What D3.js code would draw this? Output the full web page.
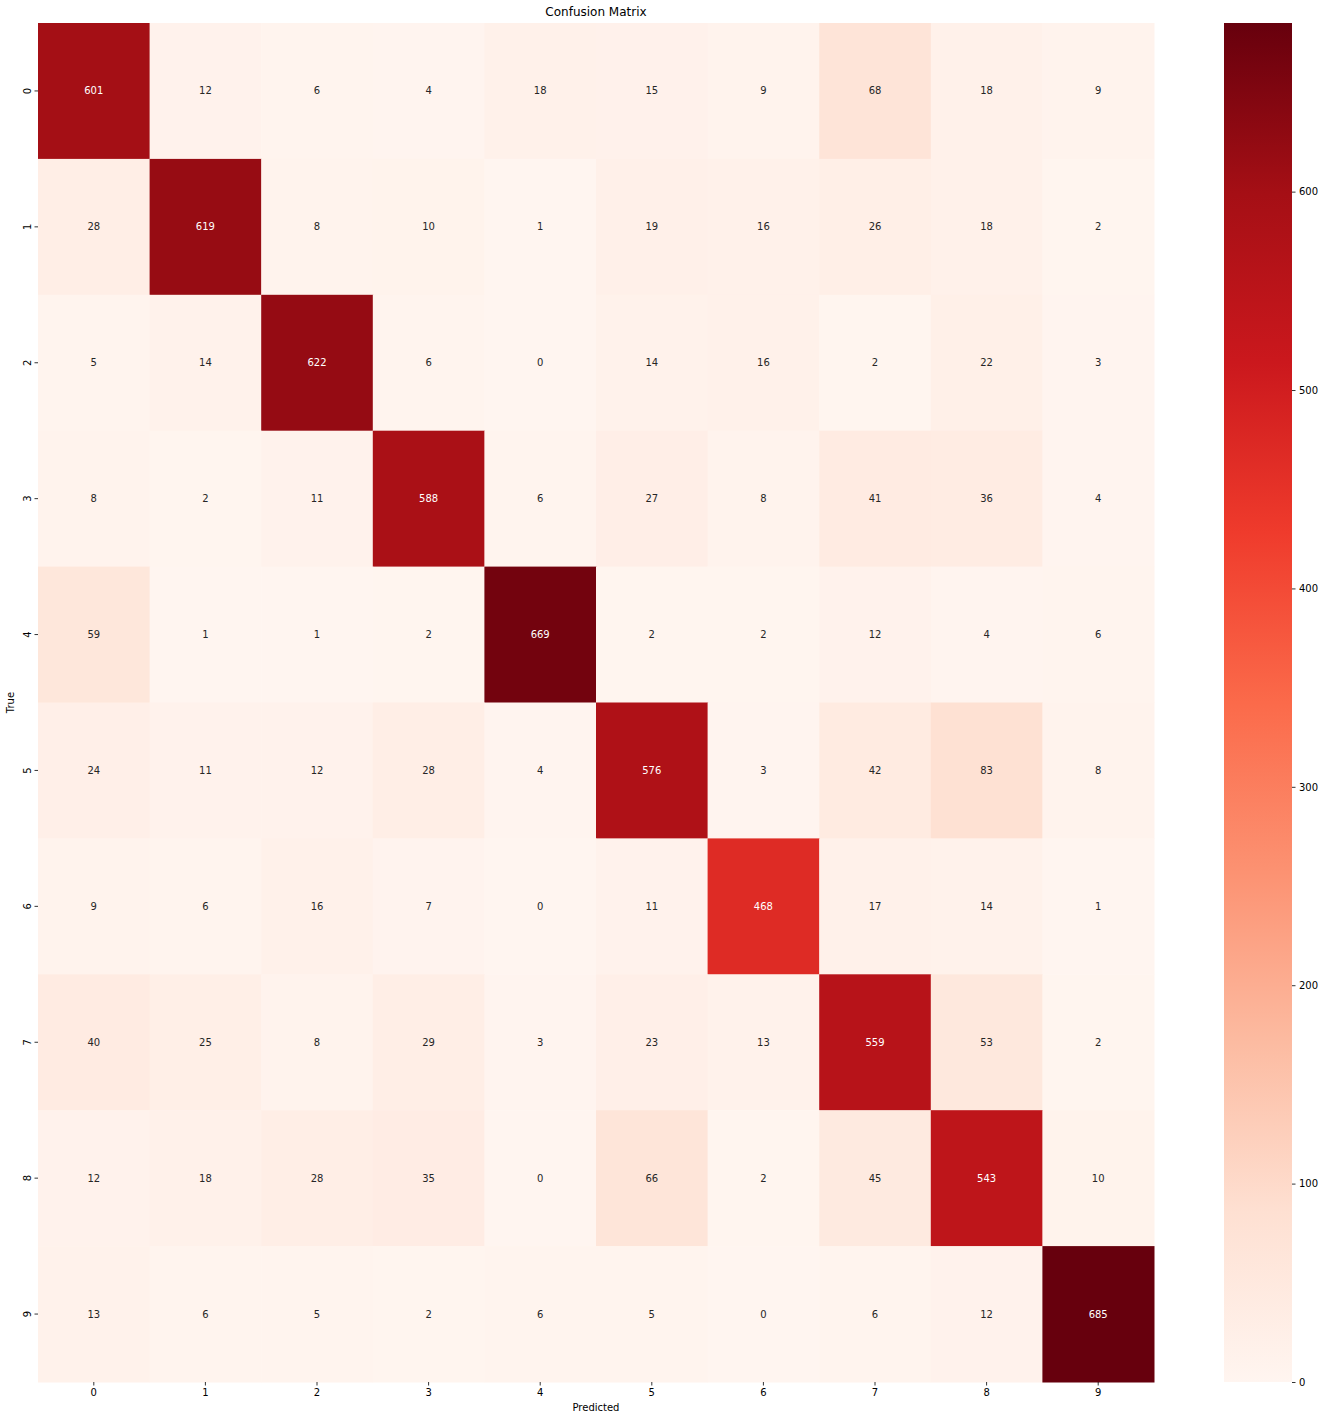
<!DOCTYPE html>
<html>
<head>
<meta charset="utf-8">
<script src="https://cdn.jsdelivr.net/npm/d3@7.9.0/dist/d3.min.js"></script>
<style>
  body { margin: 0; background: #fff; }
  svg text { font-family: "DejaVu Sans", sans-serif; }
</style>
</head>
<body>
<svg id="chart" width="1324" height="1420"></svg>
<script>
const labels = ['0', '1', '2', '3', '4', '5', '6', '7', '8', '9'];
const matrix = [
    [601, 12, 6, 4, 18, 15, 9, 68, 18, 9],
    [28, 619, 8, 10, 1, 19, 16, 26, 18, 2],
    [5, 14, 622, 6, 0, 14, 16, 2, 22, 3],
    [8, 2, 11, 588, 6, 27, 8, 41, 36, 4],
    [59, 1, 1, 2, 669, 2, 2, 12, 4, 6],
    [24, 11, 12, 28, 4, 576, 3, 42, 83, 8],
    [9, 6, 16, 7, 0, 11, 468, 17, 14, 1],
    [40, 25, 8, 29, 3, 23, 13, 559, 53, 2],
    [12, 18, 28, 35, 0, 66, 2, 45, 543, 10],
    [13, 6, 5, 2, 6, 5, 0, 6, 12, 685]
];
const cbarTicks = [0, 100, 200, 300, 400, 500, 600];

const svg = d3.select('#chart');
const plotLeft = 38, plotRight = 1154, plotTop = 23, plotBottom = 1382;

const x = d3.scaleBand().domain(labels).range([plotLeft, plotRight]);
const y = d3.scaleBand().domain(labels).range([plotTop, plotBottom]);

const vmax = d3.max(matrix.flat());
const reds = d3.schemeReds[9];
const color = d3.scaleLinear()
    .domain(reds.map((c, i) => i * vmax / 8))
    .range(reds)
    .interpolate(d3.interpolateRgb);

// text colour like seaborn: luminance based
function textColor(c) {
    const rgb = d3.rgb(c);
    const lin = [rgb.r, rgb.g, rgb.b].map(v => {
        v /= 255;
        return v <= 0.03928 ? v / 12.92 : Math.pow((v + 0.055) / 1.055, 2.4);
    });
    const lum = 0.2126 * lin[0] + 0.7152 * lin[1] + 0.0722 * lin[2];
    return lum > 0.408 ? '#262626' : '#ffffff';
}

const cells = [];
matrix.forEach((row, i) => {
    row.forEach((v, j) => {
        cells.push({ r: labels[i], c: labels[j], v: v });
    });
});

svg.append('g')
    .selectAll('rect')
    .data(cells)
    .join('rect')
    .attr('x', d => x(d.c))
    .attr('y', d => y(d.r))
    .attr('width', x.bandwidth() + 0.5)
    .attr('height', y.bandwidth() + 0.5)
    .attr('fill', d => color(d.v));

svg.append('g')
    .selectAll('text')
    .data(cells)
    .join('text')
    .attr('x', d => x(d.c) + x.bandwidth() / 2)
    .attr('y', d => y(d.r) + y.bandwidth() / 2)
    .attr('text-anchor', 'middle')
    .attr('dominant-baseline', 'central')
    .attr('font-size', 10)
    .attr('fill', d => textColor(color(d.v)))
    .text(d => d.v);

// axes
const xAxis = svg.append('g')
    .attr('transform', `translate(0,${plotBottom})`)
    .call(d3.axisBottom(x).tickSize(3.5).tickPadding(3.5));
xAxis.select('.domain').remove();
xAxis.selectAll('.tick line').attr('stroke', '#000').attr('stroke-width', 0.8);
xAxis.selectAll('.tick text').attr('font-size', 10).attr('fill', '#000')
    .style('font-family', '"DejaVu Sans", sans-serif');

const yAxis = svg.append('g')
    .attr('transform', `translate(${plotLeft},0)`)
    .call(d3.axisLeft(y).tickSize(3.5).tickPadding(3.5));
yAxis.select('.domain').remove();
yAxis.selectAll('.tick line').attr('stroke', '#000').attr('stroke-width', 0.8);
yAxis.selectAll('.tick text')
    .attr('font-size', 10).attr('fill', '#000')
    .style('font-family', '"DejaVu Sans", sans-serif')
    .attr('x', null).attr('dy', null)
    .attr('text-anchor', 'middle')
    .attr('transform', 'translate(-11,0) rotate(-90)')
    .attr('dominant-baseline', 'central');

svg.append('text')
    .attr('x', (plotLeft + plotRight) / 2)
    .attr('y', 16)
    .attr('text-anchor', 'middle')
    .attr('font-size', 12)
    .text('Confusion Matrix');

svg.append('text')
    .attr('x', (plotLeft + plotRight) / 2)
    .attr('y', 1411)
    .attr('text-anchor', 'middle')
    .attr('font-size', 10)
    .text('Predicted');

svg.append('text')
    .attr('transform', `translate(14,${(plotTop + plotBottom) / 2}) rotate(-90)`)
    .attr('text-anchor', 'middle')
    .attr('font-size', 10)
    .text('True');

// colorbar
const cbLeft = 1224, cbRight = 1292;
const cbScale = d3.scaleLinear().domain([0, vmax]).range([plotBottom, plotTop]);
const defs = svg.append('defs');
const grad = defs.append('linearGradient')
    .attr('id', 'cbgrad')
    .attr('x1', 0).attr('y1', 1).attr('x2', 0).attr('y2', 0);
reds.forEach((c, i) => {
    grad.append('stop').attr('offset', i / 8).attr('stop-color', c);
});
svg.append('rect')
    .attr('x', cbLeft)
    .attr('y', plotTop)
    .attr('width', cbRight - cbLeft)
    .attr('height', plotBottom - plotTop)
    .attr('fill', 'url(#cbgrad)');

const cbAxis = svg.append('g')
    .attr('transform', `translate(${cbRight},0)`)
    .call(d3.axisRight(cbScale).tickValues(cbarTicks).tickSize(3.5).tickPadding(3.5));
cbAxis.select('.domain').remove();
cbAxis.selectAll('.tick line').attr('stroke', '#000').attr('stroke-width', 0.8);
cbAxis.selectAll('.tick text').attr('font-size', 10).attr('fill', '#000')
    .style('font-family', '"DejaVu Sans", sans-serif');
</script>
</body>
</html>
